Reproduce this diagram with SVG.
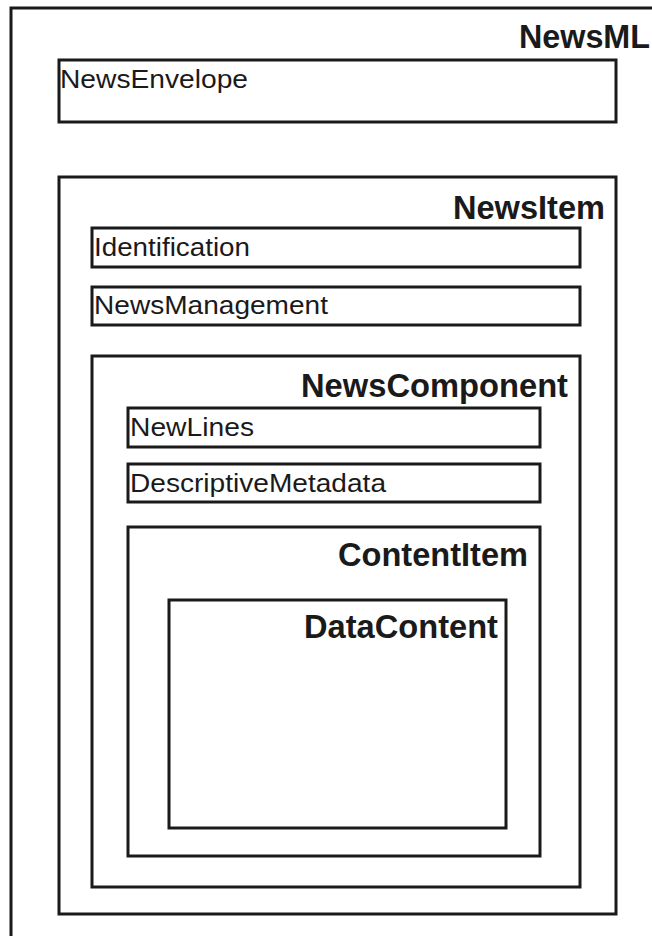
<svg xmlns="http://www.w3.org/2000/svg" width="652" height="936" viewBox="0 0 652 936">
  <style>
    .box { fill: none; stroke: #1a1a1a; stroke-width: 3; }
    .name { font-family: "Liberation Sans", Arial, sans-serif; font-size: 26px; fill: #1a1a1a; }
    .title { font-family: "Liberation Sans", Arial, sans-serif; font-size: 32.5px; font-weight: bold; fill: #1a1a1a; text-anchor: end; }
  </style>
  <rect width="652" height="936" fill="#ffffff"/>
  <g id="newsml">
    <rect class="box" x="11" y="8" width="660" height="950"/>
    <text class="title" x="650" y="48" textLength="131" lengthAdjust="spacingAndGlyphs">NewsML</text>
  </g>
  <g id="newsenvelope">
    <rect class="box" x="59" y="60" width="557" height="62"/>
    <text class="name" x="60" y="88" textLength="188" lengthAdjust="spacingAndGlyphs">NewsEnvelope</text>
  </g>
  <g id="newsitem">
    <rect class="box" x="59" y="177" width="557" height="737"/>
    <text class="title" x="605" y="219" textLength="152" lengthAdjust="spacingAndGlyphs">NewsItem</text>
  </g>
  <g id="identification">
    <rect class="box" x="92" y="228" width="488" height="39"/>
    <text class="name" x="94" y="256" textLength="156" lengthAdjust="spacingAndGlyphs">Identification</text>
  </g>
  <g id="newsmanagement">
    <rect class="box" x="92" y="287" width="488" height="38"/>
    <text class="name" x="94" y="314" textLength="234" lengthAdjust="spacingAndGlyphs">NewsManagement</text>
  </g>
  <g id="newscomponent">
    <rect class="box" x="92" y="356" width="488" height="531"/>
    <text class="title" x="568" y="397" textLength="267" lengthAdjust="spacingAndGlyphs">NewsComponent</text>
  </g>
  <g id="newlines">
    <rect class="box" x="128" y="408" width="412" height="39"/>
    <text class="name" x="130" y="436" textLength="124" lengthAdjust="spacingAndGlyphs">NewLines</text>
  </g>
  <g id="descriptivemetadata">
    <rect class="box" x="128" y="464" width="412" height="38"/>
    <text class="name" x="130" y="492" textLength="256" lengthAdjust="spacingAndGlyphs">DescriptiveMetadata</text>
  </g>
  <g id="contentitem">
    <rect class="box" x="128" y="527" width="412" height="329"/>
    <text class="title" x="528" y="566" textLength="190" lengthAdjust="spacingAndGlyphs">ContentItem</text>
  </g>
  <g id="datacontent">
    <rect class="box" x="169" y="600" width="337" height="228"/>
    <text class="title" x="498" y="638" textLength="194" lengthAdjust="spacingAndGlyphs">DataContent</text>
  </g>
  <g id="connectors"/>
</svg>
